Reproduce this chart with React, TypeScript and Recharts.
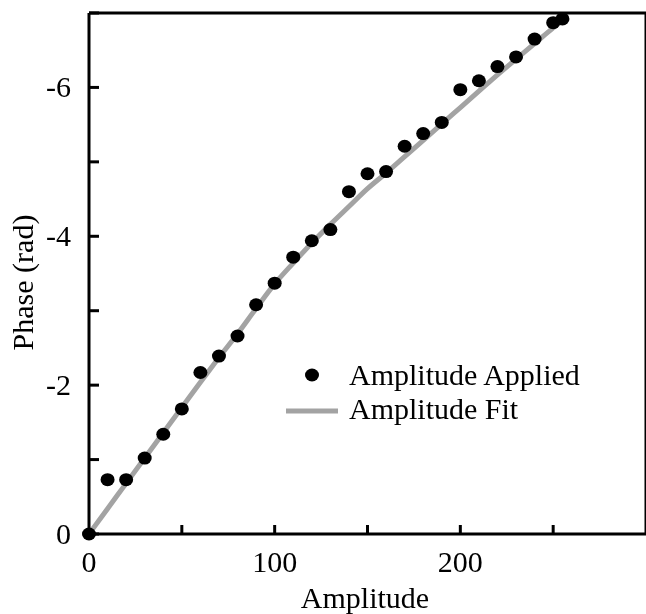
import { ComposedChart, Line, Scatter, XAxis, YAxis, Legend, Label } from "recharts"

// measured points
const amplitudes = [0, 10, 20, 30, 40, 50, 60, 70, 80, 90, 100, 110, 120, 130, 140, 150, 160, 170, 180, 190, 200, 210, 220, 230, 240, 250, 255]
const phaseApplied = [
  0, -0.73, -0.73, -1.02, -1.34, -1.68, -2.17, -2.39, -2.66, -3.08, -3.37, -3.72, -3.94, -4.09, -4.6, -4.84, -4.87,
  -5.21, -5.38, -5.53, -5.97, -6.09, -6.28, -6.41, -6.65, -6.87, -6.92,
]

// fitted curve
const fitAmplitudes = [0, 10, 20, 30, 40, 50, 60, 70, 80, 90, 100, 110, 120, 130, 140, 150, 160, 170, 180, 190, 200, 210, 220, 230, 240, 250, 255]
const phaseFit = [
  0, -0.34, -0.68, -1.02, -1.36, -1.7, -2.04, -2.37, -2.69, -3.03, -3.36, -3.64, -3.91, -4.16, -4.4, -4.64, -4.85,
  -5.07, -5.29, -5.51, -5.73, -5.95, -6.17, -6.38, -6.59, -6.8, -6.9,
]

const xTicks = [0, 50, 100, 150, 200, 250]
const xLabels = [0, 100, 200]
const yTicks = [0, -1, -2, -3, -4, -5, -6, -7]
const yLabels = [0, -2, -4, -6]

const applied = amplitudes.map((amp, i) => ({ amp, phase: phaseApplied[i] }))
const fit = fitAmplitudes.map((amp, i) => ({ amp, phase: phaseFit[i] }))

const font = { fontFamily: "'Liberation Serif', 'Times New Roman', serif", fontSize: 30, fill: "#000" }
const FIT_COLOR = "#a3a3a3"

function LeftTick({ x, y, payload }: any) {
  return (
    <g>
      <line x1={x} x2={x + 10} y1={y} y2={y} stroke="#000" strokeWidth={3} />
      {yLabels.includes(payload.value) && (
        <text x={x - 18} y={y + 10} textAnchor="end" {...font}>
          {payload.value}
        </text>
      )}
    </g>
  )
}

function RightTick({ x, y }: any) {
  return <line x1={x - 10} x2={x} y1={y} y2={y} stroke="#000" strokeWidth={3} />
}

function BottomTick({ x, y, payload }: any) {
  return (
    <g>
      {payload.value !== 0 && <line x1={x} x2={x} y1={y} y2={y - 9} stroke="#000" strokeWidth={3} />}
      {xLabels.includes(payload.value) && (
        <text x={x} y={y + 38} textAnchor="middle" {...font}>
          {payload.value}
        </text>
      )}
    </g>
  )
}

function TopTick({ x, y, payload }: any) {
  if (payload.value === 0) return <g />
  return <line x1={x} x2={x} y1={y} y2={y + 9} stroke="#000" strokeWidth={3} />
}

function LegendBox() {
  return (
    <svg width={330} height={100}>
      <ellipse cx={32} cy={25} rx={7} ry={6.5} fill="#000" />
      <text x={69} y={35} {...font}>
        Amplitude Applied
      </text>
      <line x1={6} x2={58} y1={61} y2={61} stroke={FIT_COLOR} strokeWidth={5} />
      <text x={69} y={69} {...font}>
        Amplitude Fit
      </text>
    </svg>
  )
}

const dot = (props: any) => <ellipse cx={props.cx} cy={props.cy} rx={7} ry={6.5} fill="#000" />

export default function App() {
  return (
    <div style={{ position: "fixed", left: 0, top: 0 }}>
      <ComposedChart width={647} height={614} margin={{ top: 0, right: 0, bottom: 0, left: 0 }}>
        <XAxis
          dataKey="amp"
          type="number"
          domain={[0, 300]}
          ticks={xTicks}
          interval={0}
          height={80}
          tickSize={0}
          tickMargin={0}
          tick={<BottomTick />}
          axisLine={{ stroke: "#000", strokeWidth: 3 }}
        >
          <Label
            content={({ viewBox }: any) => (
              <text x={viewBox.x + viewBox.width / 2 - 2.5} y={viewBox.y + 74} textAnchor="middle" {...font}>
                Amplitude
              </text>
            )}
          />
        </XAxis>
        <XAxis
          xAxisId="top"
          orientation="top"
          type="number"
          domain={[0, 300]}
          ticks={xTicks}
          interval={0}
          height={13}
          tickSize={0}
          tickMargin={0}
          tick={<TopTick />}
          axisLine={{ stroke: "#000", strokeWidth: 3 }}
        />
        <YAxis
          type="number"
          domain={[-7, 0]}
          reversed
          ticks={yTicks}
          interval={0}
          width={89}
          tickSize={0}
          tickMargin={0}
          tick={<LeftTick />}
          axisLine={{ stroke: "#000", strokeWidth: 3 }}
        >
          <Label
            content={({ viewBox }: any) => {
              const cx = viewBox.x + 33
              const cy = viewBox.y + viewBox.height / 2 + 9
              return (
                <text x={cx} y={cy} transform={`rotate(-90 ${cx} ${cy})`} textAnchor="middle" {...font}>
                  Phase (rad)
                </text>
              )
            }}
          />
        </YAxis>
        <YAxis
          yAxisId="right"
          orientation="right"
          type="number"
          domain={[-7, 0]}
          reversed
          ticks={yTicks}
          interval={0}
          width={1}
          tickSize={0}
          tickMargin={0}
          tick={<RightTick />}
          axisLine={{ stroke: "#000", strokeWidth: 3 }}
        />
        <Legend
          layout="horizontal"
          verticalAlign="middle"
          align="center"
          content={() => <LegendBox />}
          wrapperStyle={{ position: "absolute", left: 280, top: 350, width: 330, height: 100 }}
        />
        <Line
          data={fit}
          dataKey="phase"
          type="monotone"
          stroke={FIT_COLOR}
          strokeWidth={5}
          dot={false}
          activeDot={false}
          isAnimationActive={false}
        />
        <Scatter data={applied} dataKey="phase" shape={dot} isAnimationActive={false} />
      </ComposedChart>
    </div>
  )
}
